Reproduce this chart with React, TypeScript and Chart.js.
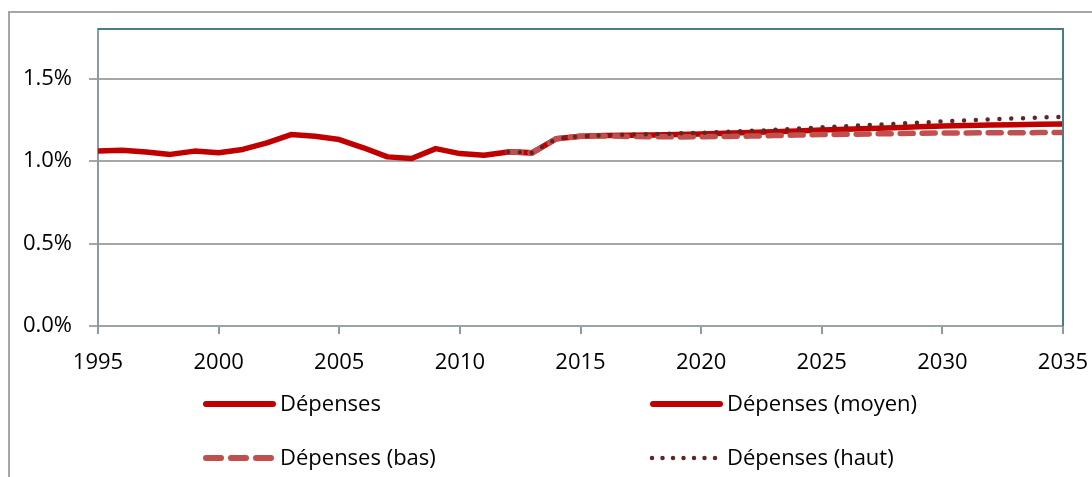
import React, { useEffect, useRef } from "react";
import { Chart, registerables } from "chart.js";

Chart.register(...registerables);

const histYears = [1995, 1996, 1997, 1998, 1999, 2000, 2001, 2002, 2003, 2004, 2005, 2006, 2007, 2008, 2009, 2010, 2011, 2012, 2013];
const histValues = [1.06, 1.065, 1.055, 1.04, 1.06, 1.05, 1.07, 1.11, 1.16, 1.15, 1.13, 1.08, 1.025, 1.015, 1.075, 1.045, 1.035, 1.055, 1.05];

const projYears = [2012, 2013, 2014, 2015, 2016, 2017, 2018, 2019, 2020, 2021, 2022, 2023, 2024, 2025, 2026, 2027, 2028, 2029, 2030, 2031, 2032, 2033, 2034, 2035];
const moyenValues = [1.055, 1.05, 1.135, 1.15, 1.155, 1.156, 1.158, 1.16, 1.164, 1.168, 1.172, 1.177, 1.182, 1.188, 1.192, 1.197, 1.202, 1.207, 1.212, 1.215, 1.218, 1.22, 1.222, 1.224];
const basValues = [1.055, 1.05, 1.135, 1.15, 1.152, 1.149, 1.147, 1.146, 1.147, 1.149, 1.151, 1.154, 1.157, 1.16, 1.162, 1.164, 1.166, 1.168, 1.17, 1.17, 1.171, 1.171, 1.172, 1.172];
const hautValues = [1.055, 1.05, 1.135, 1.15, 1.157, 1.16, 1.163, 1.167, 1.171, 1.176, 1.182, 1.188, 1.196, 1.204, 1.211, 1.218, 1.225, 1.232, 1.24, 1.246, 1.252, 1.258, 1.263, 1.268];

const labels = ["Dépenses", "Dépenses (moyen)", "Dépenses (bas)", "Dépenses (haut)"];
const yTicks = [0, 0.5, 1.0, 1.5];

const FONT = "'Open Sans', Lato, sans-serif";
const FONT_SIZE = 22;

const toPts = (xs: number[], ys: number[]) => xs.map((x, i) => ({ x, y: ys[i] }));

const framePlugin = {
  id: "frame",
  beforeDraw(chart: any) {
    const ctx = chart.ctx;
    ctx.save();
    ctx.strokeStyle = "#a6a6a6";
    ctx.lineWidth = 2;
    ctx.strokeRect(9, 12, 2000, 2000);
    ctx.restore();
  },
  afterDatasetsDraw(chart: any) {
    const { ctx, chartArea } = chart;
    ctx.save();
    ctx.strokeStyle = "#4a7b89";
    ctx.lineWidth = 2;
    ctx.beginPath();
    ctx.moveTo(chartArea.left, chartArea.top);
    ctx.lineTo(chartArea.right, chartArea.top);
    ctx.lineTo(chartArea.right, chartArea.bottom);
    ctx.stroke();
    ctx.restore();
  },
};

const legendPlugin = {
  id: "gridLegend",
  afterDraw(chart: any) {
    const ctx = chart.ctx;
    const cols = [203, 650];
    const rows = [404, 458];
    const order = [0, 1, 2, 3];
    ctx.save();
    order.forEach((di, k) => {
      const ds = chart.data.datasets[di];
      const x = cols[k % 2];
      const y = rows[Math.floor(k / 2)];
      ctx.strokeStyle = ds.borderColor;
      ctx.lineCap = "round";
      ctx.beginPath();
      if (ds.legendStyle === "dash") {
        ctx.lineWidth = 6;
        ctx.setLineDash([15, 10]);
        ctx.moveTo(x + 3, y);
        ctx.lineTo(x + 72, y);
      } else if (ds.legendStyle === "dot") {
        ctx.lineWidth = 4.5;
        ctx.setLineDash([0, 10.5]);
        ctx.moveTo(x + 2, y);
        ctx.lineTo(x + 70, y);
      } else {
        ctx.lineWidth = 6;
        ctx.setLineDash([]);
        ctx.moveTo(x + 3, y);
        ctx.lineTo(x + 70, y);
      }
      ctx.stroke();
      ctx.setLineDash([]);
      ctx.fillStyle = "#000000";
      ctx.font = FONT_SIZE + "px " + FONT;
      ctx.textBaseline = "middle";
      ctx.textAlign = "left";
      ctx.fillText(ds.label, x + 77, y + 1);
    });
    ctx.restore();
  },
};

export default function App() {
  const ref = useRef<HTMLCanvasElement | null>(null);
  useEffect(() => {
    document.body.style.margin = "0";
    const canvas = ref.current;
    if (!canvas) return;
    const chart = new Chart(canvas, {
      type: "line",
      data: {
        datasets: [
          {
            label: labels[0],
            data: toPts(histYears, histValues),
            borderColor: "#c00000",
            borderWidth: 5.5,
            pointRadius: 0,
            tension: 0,
            borderCapStyle: "round",
            borderJoinStyle: "round",
            order: 4,
          } as any,
          {
            label: labels[1],
            data: toPts(projYears, moyenValues),
            borderColor: "#c00000",
            borderWidth: 5.5,
            pointRadius: 0,
            tension: 0,
            borderCapStyle: "round",
            borderJoinStyle: "round",
            order: 3,
          },
          {
            label: labels[2],
            data: toPts(projYears, basValues),
            borderColor: "#c0504d",
            borderWidth: 5.5,
            borderDash: [13, 9],
            pointRadius: 0,
            tension: 0,
            borderCapStyle: "round",
            legendStyle: "dash",
            order: 2,
          },
          {
            label: labels[3],
            data: toPts(projYears, hautValues),
            borderColor: "#632523",
            borderWidth: 4.5,
            borderDash: [0, 11.8],
            pointRadius: 0,
            tension: 0,
            borderCapStyle: "round",
            legendStyle: "dot",
            order: 1,
          },
        ],
      },
      options: {
        animation: false,
        responsive: false,
        maintainAspectRatio: false,
        layout: { padding: { top: 29, right: 29, left: 0, bottom: 0 } },
        plugins: {
          legend: { display: false },
          tooltip: { enabled: false },
        },
        scales: {
          x: {
            type: "linear",
            min: 1995,
            max: 2035,
            ticks: {
              stepSize: 5,
              color: "#000000",
              font: { family: FONT, size: FONT_SIZE },
              padding: 16,
              maxRotation: 0,
              autoSkip: false,
              callback: (v: any) => String(v),
            },
            grid: {
              drawOnChartArea: false,
              drawTicks: true,
              tickLength: 8,
              color: "#8c9ba1",
              lineWidth: 2,
            },
            border: { color: "#9aa4a8", width: 2 },
            afterFit: (s: any) => {
              s.height = 151;
              s.paddingRight = 0;
              s.paddingLeft = 0;
            },
          },
          y: {
            type: "linear",
            min: 0,
            max: 1.8,
            afterBuildTicks: (s: any) => {
              s.ticks = yTicks.map((v) => ({ value: v }));
            },
            ticks: {
              color: "#000000",
              font: { family: FONT, size: FONT_SIZE },
              padding: 17,
              callback: (v: any) => Number(v).toFixed(1) + "%",
            },
            grid: {
              drawTicks: true,
              tickLength: 9,
              color: "#a6a6a6",
              lineWidth: 2,
            },
            border: { color: "#8c9ba1", width: 2 },
            afterFit: (s: any) => {
              s.width = 98;
              s.paddingTop = 0;
              s.paddingBottom = 0;
            },
          },
        },
      },
      plugins: [framePlugin, legendPlugin],
    } as any);
    return () => chart.destroy();
  }, []);
  return <canvas ref={ref} width={1092} height={477} style={{ display: "block" }} />;
}
